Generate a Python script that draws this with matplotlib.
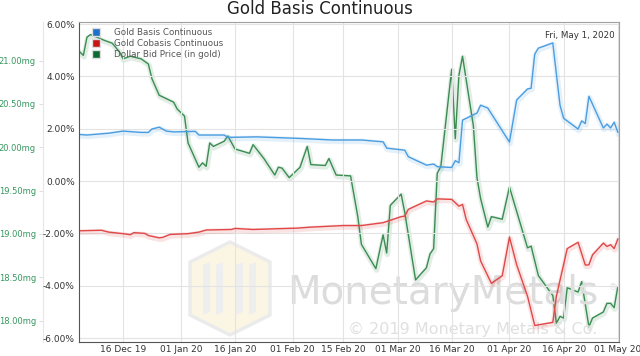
import numpy as np
import pandas as pd
import matplotlib
matplotlib.use('Agg')
import matplotlib.pyplot as plt
import matplotlib.dates as mdates
import matplotlib.patheffects as pe
from matplotlib.patches import Polygon

# values
basis_dates = ['2019-12-04', '2019-12-06', '2019-12-12', '2019-12-16', '2019-12-21', '2019-12-23',
               '2019-12-24', '2019-12-26', '2019-12-28', '2019-12-30', '2020-01-05', '2020-01-06',
               '2020-01-13', '2020-01-14', '2020-01-22', '2020-02-03', '2020-02-12', '2020-02-20',
               '2020-02-26', '2020-02-27', '2020-03-03', '2020-03-04', '2020-03-09', '2020-03-11',
               '2020-03-12', '2020-03-16', '2020-03-17', '2020-03-18', '2020-03-19', '2020-03-23',
               '2020-03-24', '2020-03-26', '2020-04-01', '2020-04-03', '2020-04-06', '2020-04-07',
               '2020-04-08', '2020-04-09', '2020-04-13', '2020-04-15', '2020-04-16', '2020-04-20',
               '2020-04-21', '2020-04-22', '2020-04-23', '2020-04-27', '2020-04-28', '2020-04-29',
               '2020-04-30', '2020-05-01']
basis = [1.78, 1.76, 1.83, 1.91, 1.86, 1.86, 1.99, 2.06, 1.91, 1.88, 1.90, 1.76,
         1.76, 1.67, 1.69, 1.63, 1.57, 1.57, 1.50, 1.26, 1.18, 0.93, 0.61, 0.65,
         0.55, 0.52, 0.78, 0.70, 2.33, 2.60, 2.90, 2.79, 1.49, 3.10, 3.52, 3.55,
         4.85, 5.08, 5.28, 2.90, 2.40, 1.99, 2.30, 2.20, 3.24, 2.03, 2.18, 2.03,
         2.25, 1.87]

cobasis_dates = ['2019-12-04', '2019-12-10', '2019-12-12', '2019-12-16', '2019-12-18', '2019-12-19',
                 '2019-12-22', '2019-12-23', '2019-12-26', '2019-12-27', '2019-12-29', '2020-01-03',
                 '2020-01-06', '2020-01-08', '2020-01-15', '2020-01-16', '2020-01-21', '2020-01-28',
                 '2020-02-02', '2020-02-06', '2020-02-15', '2020-02-20', '2020-02-26', '2020-03-02',
                 '2020-03-03', '2020-03-04', '2020-03-09', '2020-03-11', '2020-03-12', '2020-03-16',
                 '2020-03-18', '2020-03-19', '2020-03-20', '2020-03-23', '2020-03-24', '2020-03-27',
                 '2020-03-30', '2020-04-01', '2020-04-03', '2020-04-06', '2020-04-08', '2020-04-13',
                 '2020-04-14', '2020-04-17', '2020-04-20', '2020-04-22', '2020-04-23', '2020-04-24',
                 '2020-04-27', '2020-04-28', '2020-04-29', '2020-04-30', '2020-05-01']
cobasis = [-1.90, -1.88, -1.95, -2.01, -2.05, -1.97, -2.00, -2.08, -2.17, -2.15, -2.04, -2.01,
           -1.95, -1.87, -1.85, -1.81, -1.85, -1.82, -1.80, -1.76, -1.70, -1.70, -1.59, -1.36,
           -1.34, -1.08, -0.76, -0.80, -0.68, -0.70, -0.96, -0.89, -1.46, -2.40, -3.05, -3.91,
           -3.62, -2.14, -3.20, -4.40, -5.52, -5.40, -4.40, -2.58, -2.34, -3.21, -3.20, -2.82,
           -2.37, -2.50, -2.43, -2.58, -2.22]

dollar_dates = ['2019-12-04', '2019-12-05', '2019-12-06', '2019-12-07', '2019-12-11', '2019-12-13',
                '2019-12-15', '2019-12-16', '2019-12-18', '2019-12-21', '2019-12-23', '2019-12-24',
                '2019-12-26', '2019-12-30', '2019-12-31', '2020-01-02', '2020-01-03', '2020-01-06',
                '2020-01-07', '2020-01-08', '2020-01-09', '2020-01-10', '2020-01-13', '2020-01-14',
                '2020-01-16', '2020-01-20', '2020-01-21', '2020-01-24', '2020-01-27', '2020-01-28',
                '2020-01-29', '2020-01-31', '2020-02-03', '2020-02-05', '2020-02-06', '2020-02-10',
                '2020-02-11', '2020-02-13', '2020-02-17', '2020-02-19', '2020-02-20', '2020-02-24',
                '2020-02-26', '2020-02-27', '2020-02-28', '2020-03-02', '2020-03-03', '2020-03-06',
                '2020-03-09', '2020-03-10', '2020-03-11', '2020-03-12', '2020-03-13', '2020-03-16',
                '2020-03-17', '2020-03-18', '2020-03-19', '2020-03-22', '2020-03-23', '2020-03-24',
                '2020-03-26', '2020-03-27', '2020-03-30', '2020-04-01', '2020-04-06', '2020-04-07',
                '2020-04-09', '2020-04-13', '2020-04-14', '2020-04-15', '2020-04-16', '2020-04-17',
                '2020-04-20', '2020-04-21', '2020-04-23', '2020-04-24', '2020-04-27', '2020-04-28',
                '2020-04-29', '2020-04-30', '2020-05-01']
dollar_mg = [21.10, 21.06, 21.27, 21.30, 21.23, 21.20, 21.10, 21.02, 21.05, 21.02, 20.96, 20.79,
             20.60, 20.52, 20.44, 20.36, 20.05, 19.77, 19.82, 19.78, 20.05, 20.01, 20.07, 20.13,
             19.98, 19.93, 20.03, 19.87, 19.68, 19.77, 19.76, 19.65, 19.77, 20.01, 19.80, 19.79,
             19.87, 19.68, 19.67, 19.20, 18.88, 18.60, 18.99, 18.78, 19.33, 19.46, 19.25, 18.47,
             18.61, 18.77, 18.83, 19.70, 19.78, 20.90, 20.10, 20.83, 21.05, 20.25, 19.65, 19.41,
             19.08, 19.20, 19.17, 19.54, 18.84, 18.86, 18.52, 18.29, 17.97, 18.05, 18.03, 18.38,
             18.33, 18.45, 17.93, 18.03, 18.10, 18.20, 18.20, 18.15, 18.39]

tick_dates = ['2019-12-16', '2020-01-01', '2020-01-16', '2020-02-01', '2020-02-15',
              '2020-03-01', '2020-03-16', '2020-04-01', '2020-04-16', '2020-05-01']
pct_ticks = [6, 4, 2, 0, -2, -4, -6]
mg_ticks = [21.0, 20.5, 20.0, 19.5, 19.0, 18.5, 18.0]

c_basis = '#4a9de0'
c_cobasis = '#e04848'
c_dollar = '#3a8c52'


def glow(color):
    return [pe.Stroke(linewidth=4, foreground=color, alpha=0.15, offset=(0.5, -1)),
            pe.Normal()]


fig = plt.figure(figsize=(6.4, 3.56), dpi=100)
ax = fig.add_axes([79 / 640, 1 - 342 / 356, 540 / 640, 320 / 356])
ax2 = ax.twinx()
ax.set_zorder(ax2.get_zorder() + 1)
ax.patch.set_visible(False)

# watermark
fig.text(287 / 640, 1 - 304 / 356, 'MonetaryMetals', fontsize=28, color='#dcdcdc',
         zorder=0)
fig.text(348 / 640, 1 - 334 / 356, '\u00a9 2019 Monetary Metals & Co.', fontsize=11.5,
         color='#e0e0e0', zorder=0)
fig.text(609 / 640, 1 - 290 / 356, '\u00ae', fontsize=6, color='#e0e0e0', zorder=0)
hexa = [(230, 242), (270, 262), (270, 315), (230, 335), (190, 315), (190, 262)]
hexa = [(x / 640, 1 - y / 356) for x, y in hexa]
fig.patches.append(Polygon(hexa, closed=True, transform=fig.transFigure,
                           facecolor='#fbf6e4', edgecolor='#ebebeb', lw=2.5, zorder=0))
for bx in [203, 216, 236, 249]:
    fig.patches.append(Polygon([(bx / 640, 1 - 265 / 356), ((bx + 7) / 640, 1 - 262 / 356),
                                ((bx + 7) / 640, 1 - 312 / 356), (bx / 640, 1 - 315 / 356)],
                               transform=fig.transFigure, facecolor='#eeeeee',
                               edgecolor='none', zorder=0))

bd = pd.to_datetime(basis_dates)
cd = pd.to_datetime(cobasis_dates)
dd = pd.to_datetime(dollar_dates)

l1, = ax.plot(bd, basis, color=c_basis, lw=1, path_effects=glow(c_basis))
l2, = ax.plot(cd, cobasis, color=c_cobasis, lw=1, path_effects=glow(c_cobasis))
l3, = ax2.plot(dd, dollar_mg, color=c_dollar, lw=1, path_effects=glow(c_dollar))

ax.set_xlim(pd.Timestamp('2019-12-03 19:00'), pd.Timestamp('2020-05-01 08:00'))
ax.set_ylim(-6.15, 6.08)
ax2.set_ylim(17.754, 21.445)

ax.set_xticks(pd.to_datetime(tick_dates))
ax.xaxis.set_major_formatter(mdates.DateFormatter('%d %b %y'))
ax.set_yticks(pct_ticks)
ax.set_yticklabels(['%.2f%%' % v for v in pct_ticks])
ax.grid(True, color='#e3e3e3', lw=0.8)
ax.set_axisbelow(True)
ax.tick_params(axis='x', length=0, labelsize=6.5, colors='#333333', pad=2.5)
ax.tick_params(axis='y', length=0, labelsize=6.5, colors='#333333', pad=3)
for s in ['left', 'bottom']:
    ax.spines[s].set_color('#555555')
for s in ['top', 'right']:
    ax.spines[s].set_color('#a0a0a0')

ax2.spines['left'].set_position(('outward', 26))
ax2.spines['left'].set_visible(True)
ax2.spines['left'].set_color('#e6e6e6')
ax2.yaxis.set_ticks_position('left')
ax2.yaxis.set_label_position('left')
for s in ['top', 'right', 'bottom']:
    ax2.spines[s].set_visible(False)
ax2.set_yticks(mg_ticks)
ax2.set_yticklabels(['%.2fmg' % v for v in mg_ticks])
ax2.tick_params(axis='y', length=3, labelsize=6.0, colors='#e0e0e0', labelcolor='#36975f', pad=2)

fig.text(0.5, 1 - 14 / 356, 'Gold Basis Continuous', ha='center', va='baseline',
         fontsize=12, color='#222222')
ax.text(0.993, 0.972, 'Fri, May 1, 2020', transform=ax.transAxes, ha='right', va='top',
        fontsize=6.3, color='#333333')

handles = [plt.Line2D([], [], ls='none', marker='s', markersize=6, color=c,
                      markeredgecolor='#dddddd')
           for c in ['#1c72c8', '#c81414', '#0b6a30']]
ax.legend(handles, ['Gold Basis Continuous', 'Gold Cobasis Continuous', 'Dollar Bid Price (in gold)'],
          loc='upper left', bbox_to_anchor=(0.008, 1.0), frameon=False, fontsize=6.3,
          labelcolor='#555555', handletextpad=1.4, labelspacing=0.27, borderaxespad=0.25,
          handlelength=1.5)

fig.savefig('out.png', dpi=100)
